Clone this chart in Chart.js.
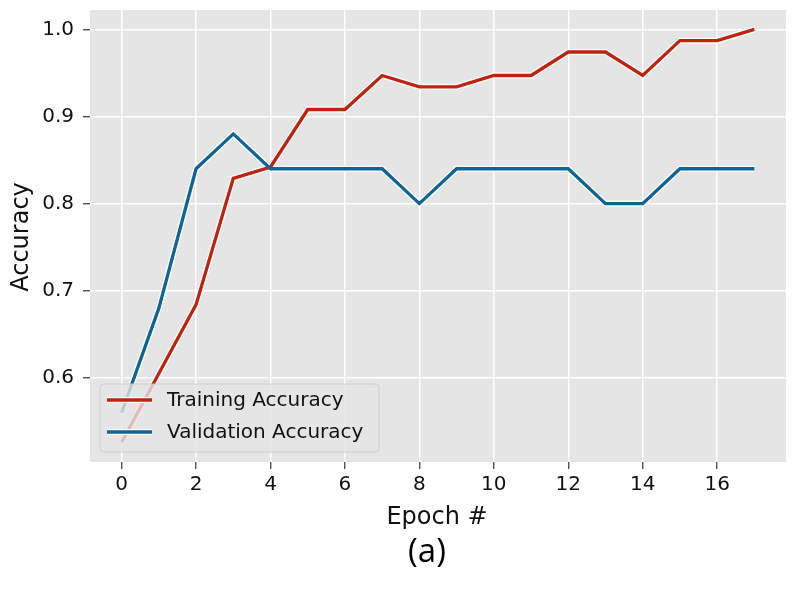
<!DOCTYPE html>
<html>
<head>
<meta charset="utf-8">
<script src="https://cdn.jsdelivr.net/npm/chart.js@4.4.1/dist/chart.umd.min.js"></script>
<style>
html,body{margin:0;padding:0;background:#fff;}
#wrap{width:796px;height:596px;position:relative;}
</style>
</head>
<body>
<div id="wrap"><canvas id="c" width="796" height="596"></canvas></div>
<script>
const epochs = [0,1,2,3,4,5,6,7,8,9,10,11,12,13,14,15,16,17];
const trainingAccuracy = [0.526,0.605,0.684,0.829,0.842,0.908,0.908,0.947,0.934,0.934,0.947,0.947,0.974,0.974,0.947,0.987,0.987,1.0];
const validationAccuracy = [0.56,0.68,0.84,0.88,0.84,0.84,0.84,0.84,0.80,0.84,0.84,0.84,0.84,0.80,0.80,0.84,0.84,0.84];
const xTicks = [0,2,4,6,8,10,12,14,16];
const yTicks = [0.6,0.7,0.8,0.9,1.0];
const seriesNames = ['Training Accuracy','Validation Accuracy'];
const xTitle = 'Epoch #';
const yTitle = 'Accuracy';
const caption = '(a)';

const RED = '#c0220e';
const BLUE = '#0f6496';
const FONT = "'DejaVu Sans', sans-serif";

function pts(vals){ return epochs.map((e,i)=>({x:e,y:vals[i]})); }

const bgPlugin = {
  id:'bg',
  beforeDraw(chart){
    const {ctx, chartArea:a} = chart;
    ctx.save();
    ctx.fillStyle = '#e5e5e5';
    ctx.fillRect(a.left, a.top, a.right-a.left, a.bottom-a.top);
    ctx.restore();
  }
};

const legendPlugin = {
  id:'inlegend',
  afterDatasetsDraw(chart){
    const ctx = chart.ctx;
    const x0=100, y0=384, w=279, h=68, r=4;
    ctx.save();
    ctx.beginPath();
    ctx.moveTo(x0+r,y0);
    ctx.arcTo(x0+w,y0,x0+w,y0+h,r);
    ctx.arcTo(x0+w,y0+h,x0,y0+h,r);
    ctx.arcTo(x0,y0+h,x0,y0,r);
    ctx.arcTo(x0,y0,x0+w,y0,r);
    ctx.closePath();
    ctx.fillStyle='rgba(229,229,229,0.8)';
    ctx.fill();
    ctx.strokeStyle='rgba(204,204,204,0.9)';
    ctx.lineWidth=1;
    ctx.stroke();
    const cols=[RED,BLUE];
    const rows=[400,432];
    ctx.font = "20px "+FONT;
    ctx.textBaseline='middle';
    ctx.textAlign='left';
    for(let i=0;i<2;i++){
      ctx.strokeStyle='#ffffff';
      ctx.lineWidth=6;
      ctx.beginPath(); ctx.moveTo(107,rows[i]); ctx.lineTo(152,rows[i]); ctx.stroke();
      ctx.strokeStyle=cols[i];
      ctx.lineWidth=3.3;
      ctx.beginPath(); ctx.moveTo(107,rows[i]); ctx.lineTo(152,rows[i]); ctx.stroke();
      ctx.fillStyle='#111111';
      ctx.fillText(seriesNames[i],167,rows[i]+1);
    }
    ctx.restore();
  },
  afterDraw(chart){
    const ctx = chart.ctx;
    ctx.save();
    ctx.fillStyle='#111111';
    ctx.textAlign='center';
    ctx.textBaseline='middle';
    ctx.font = "24px "+FONT;
    ctx.fillText(xTitle, 437, 518);
    ctx.save();
    ctx.translate(22, 237);
    ctx.rotate(-Math.PI/2);
    ctx.fillText(yTitle, 0, 0);
    ctx.restore();
    ctx.font = "33px 'Open Sans', 'Noto Sans', sans-serif";
    ctx.fillStyle='#000';
    ctx.fillText(caption, 427, 553);
    ctx.restore();
  }
};

new Chart(document.getElementById('c'), {
  type:'line',
  data:{
    datasets:[
      {label:'_t', data:pts(trainingAccuracy), borderColor:'#ffffff', borderWidth:6, pointRadius:0, fill:false, tension:0, order:4},
      {label:'_v', data:pts(validationAccuracy), borderColor:'#ffffff', borderWidth:6, pointRadius:0, fill:false, tension:0, order:3},
      {label:seriesNames[0], data:pts(trainingAccuracy), borderColor:RED, borderWidth:3.3, pointRadius:0, fill:false, tension:0, order:2},
      {label:seriesNames[1], data:pts(validationAccuracy), borderColor:BLUE, borderWidth:3.3, pointRadius:0, fill:false, tension:0, order:1}
    ]
  },
  options:{
    responsive:false,
    animation:false,
    devicePixelRatio:1,
    layout:{padding:{left:0,right:10,top:10,bottom:0}},
    plugins:{legend:{display:false}, tooltip:{enabled:false}},
    scales:{
      x:{
        type:'linear', min:-0.85, max:17.85,
        afterBuildTicks(s){ s.ticks = xTicks.map(v=>({value:v})); },
        afterFit(s){ s.height = 134; s.paddingLeft = 0; s.paddingRight = 0; },
        grid:{color:'#ffffff', lineWidth:1.5, tickLength:7, tickColor:'#333333', tickWidth:1.2},
        border:{display:false},
        ticks:{color:'#111111', font:{family:FONT, size:20}, padding:4, maxRotation:0, autoSkip:false}
      },
      y:{
        type:'linear', min:0.5034, max:1.0222,
        afterBuildTicks(s){ s.ticks = yTicks.map(v=>({value:v})); },
        afterFit(s){ s.width = 90; s.paddingTop = 0; s.paddingBottom = 0; },
        grid:{color:'#ffffff', lineWidth:1.5, tickLength:7, tickColor:'#333333', tickWidth:1.2},
        border:{display:false},
        ticks:{color:'#111111', font:{family:FONT, size:20}, padding:9, callback:v=>v.toFixed(1), autoSkip:false}
      }
    }
  },
  plugins:[bgPlugin, legendPlugin]
});
</script>
</body>
</html>
